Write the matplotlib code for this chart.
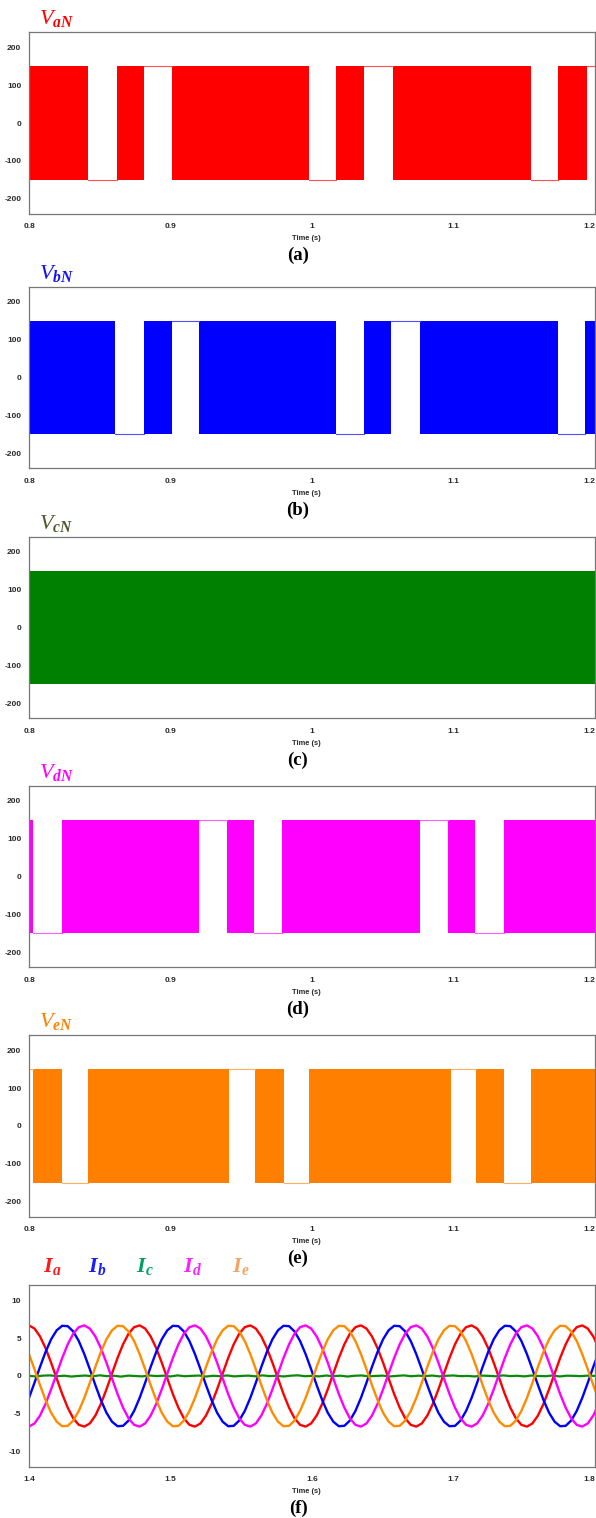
import numpy as np
import matplotlib
matplotlib.use("Agg")
import matplotlib.pyplot as plt

plt.rcParams["axes.unicode_minus"] = False
plt.rcParams["mathtext.fontset"] = "custom"
plt.rcParams["mathtext.rm"] = "Liberation Serif"
plt.rcParams["mathtext.it"] = "Liberation Serif:italic"
plt.rcParams["mathtext.bf"] = "Liberation Serif:bold:italic"

# ---------------- data ----------------
VDC = 150  # switching level of the phase voltages (V)
V_XLIM = (0.8, 1.2)
V_YLIM = (-240, 240)
V_XTICKS = [0.8, 0.9, 1.0, 1.1, 1.2]
V_XTICKLABELS = ["0.8", "0.9", "1", "1.1", "1.2"]
V_YTICKS = [200, 100, 0, -100, -200]
V_YTICKLABELS = ["200", "100", "0", "-100", "-200"]

# intervals (s) where the leg does not switch, and the level held (+1 top / -1 bottom)
VA_GAPS = [(0.842, 0.862), (0.881, 0.901), (0.998, 1.017), (1.037, 1.057), (1.155, 1.174), (1.194, 1.213)]
VA_SIDES = [-1, 1, -1, 1, -1, 1]
VB_GAPS = [(0.861, 0.881), (0.901, 0.920), (1.017, 1.037), (1.056, 1.076), (1.174, 1.193)]
VB_SIDES = [-1, 1, -1, 1, -1]
VC_GAPS = []
VC_SIDES = []
VD_GAPS = [(0.803, 0.823), (0.920, 0.940), (0.959, 0.979), (1.076, 1.096), (1.115, 1.136)]
VD_SIDES = [-1, 1, -1, 1, -1]
VE_GAPS = [(0.784, 0.803), (0.823, 0.842), (0.941, 0.960), (0.980, 0.998), (1.098, 1.116), (1.136, 1.155)]
VE_SIDES = [1, -1, 1, -1, 1, -1]

I_XLIM = (1.4, 1.8)
I_YLIM = (-12, 12)
I_XTICKS = [1.4, 1.5, 1.6, 1.7, 1.8]
I_XTICKLABELS = ["1.4", "1.5", "1.6", "1.7", "1.8"]
I_YTICKS = [10, 5, 0, -5, -10]
I_YTICKLABELS = ["10", "5", "0", "-5", "-10"]

I_T0 = 1.4
I_DT = 0.00391  # sampling step of the read-off current values (s)
IA = [6.69, 6.27, 5.22, 3.67, 1.76, -0.32, -2.38, -4.19, -5.60, -6.46, -6.69, -6.27, -5.22, -3.67, -1.76, 0.32, 2.38, 4.19, 5.60, 6.46,
      6.69, 6.27, 5.22, 3.67, 1.76, -0.32, -2.38, -4.19, -5.60, -6.46, -6.69, -6.27, -5.22, -3.67, -1.76, 0.32, 2.38, 4.19, 5.60, 6.46,
      6.69, 6.27, 5.22, 3.67, 1.76, -0.32, -2.38, -4.19, -5.60, -6.46, -6.69, -6.27, -5.22, -3.67, -1.76, 0.32, 2.38, 4.19, 5.60, 6.46,
      6.69, 6.27, 5.22, 3.67, 1.76, -0.32, -2.38, -4.19, -5.60, -6.46, -6.69, -6.27, -5.22, -3.67, -1.76, 0.32, 2.38, 4.19, 5.60, 6.46,
      6.69, 6.27, 5.22, 3.67, 1.76, -0.32, -2.38, -4.19, -5.60, -6.46, -6.69, -6.27, -5.22, -3.67, -1.76, 0.32, 2.38, 4.19, 5.60, 6.46,
      6.69, 6.27, 5.22, 3.67]
IB = [-2.89, -0.88, 1.22, 3.19, 4.86, 6.04, 6.64, 6.59, 5.89, 4.62, 2.89, 0.88, -1.22, -3.19, -4.86, -6.04, -6.64, -6.59, -5.89, -4.62,
      -2.89, -0.88, 1.22, 3.19, 4.86, 6.04, 6.64, 6.59, 5.89, 4.62, 2.89, 0.88, -1.22, -3.19, -4.86, -6.04, -6.64, -6.59, -5.89, -4.62,
      -2.89, -0.88, 1.22, 3.19, 4.86, 6.04, 6.64, 6.59, 5.89, 4.62, 2.89, 0.88, -1.22, -3.19, -4.86, -6.04, -6.64, -6.59, -5.89, -4.62,
      -2.89, -0.88, 1.22, 3.19, 4.86, 6.04, 6.64, 6.59, 5.89, 4.62, 2.89, 0.88, -1.22, -3.19, -4.86, -6.04, -6.64, -6.59, -5.89, -4.62,
      -2.89, -0.88, 1.22, 3.19, 4.86, 6.04, 6.64, 6.59, 5.89, 4.62, 2.89, 0.88, -1.22, -3.19, -4.86, -6.04, -6.64, -6.59, -5.89, -4.62,
      -2.89, -0.88, 1.22, 3.19]
ID = [-6.69, -6.27, -5.22, -3.67, -1.76, 0.32, 2.38, 4.19, 5.60, 6.46, 6.69, 6.27, 5.22, 3.67, 1.76, -0.32, -2.38, -4.19, -5.60, -6.46,
      -6.69, -6.27, -5.22, -3.67, -1.76, 0.32, 2.38, 4.19, 5.60, 6.46, 6.69, 6.27, 5.22, 3.67, 1.76, -0.32, -2.38, -4.19, -5.60, -6.46,
      -6.69, -6.27, -5.22, -3.67, -1.76, 0.32, 2.38, 4.19, 5.60, 6.46, 6.69, 6.27, 5.22, 3.67, 1.76, -0.32, -2.38, -4.19, -5.60, -6.46,
      -6.69, -6.27, -5.22, -3.67, -1.76, 0.32, 2.38, 4.19, 5.60, 6.46, 6.69, 6.27, 5.22, 3.67, 1.76, -0.32, -2.38, -4.19, -5.60, -6.46,
      -6.69, -6.27, -5.22, -3.67, -1.76, 0.32, 2.38, 4.19, 5.60, 6.46, 6.69, 6.27, 5.22, 3.67, 1.76, -0.32, -2.38, -4.19, -5.60, -6.46,
      -6.69, -6.27, -5.22, -3.67]
IE = [2.89, 0.88, -1.22, -3.19, -4.86, -6.04, -6.64, -6.59, -5.89, -4.62, -2.89, -0.88, 1.22, 3.19, 4.86, 6.04, 6.64, 6.59, 5.89, 4.62,
      2.89, 0.88, -1.22, -3.19, -4.86, -6.04, -6.64, -6.59, -5.89, -4.62, -2.89, -0.88, 1.22, 3.19, 4.86, 6.04, 6.64, 6.59, 5.89, 4.62,
      2.89, 0.88, -1.22, -3.19, -4.86, -6.04, -6.64, -6.59, -5.89, -4.62, -2.89, -0.88, 1.22, 3.19, 4.86, 6.04, 6.64, 6.59, 5.89, 4.62,
      2.89, 0.88, -1.22, -3.19, -4.86, -6.04, -6.64, -6.59, -5.89, -4.62, -2.89, -0.88, 1.22, 3.19, 4.86, 6.04, 6.64, 6.59, 5.89, 4.62,
      2.89, 0.88, -1.22, -3.19, -4.86, -6.04, -6.64, -6.59, -5.89, -4.62, -2.89, -0.88, 1.22, 3.19, 4.86, 6.04, 6.64, 6.59, 5.89, 4.62,
      2.89, 0.88, -1.22, -3.19]
IC_DT = 0.005
IC = [0.02, -0.06, 0.05, 0.08, -0.03, 0.04, -0.07, 0.01, 0.06, -0.04, 0.09, -0.02, 0.03, -0.08, 0.05, 0.00,
      -0.05, 0.07, -0.01, 0.04, -0.06, 0.08, -0.03, 0.02, 0.06, -0.07, 0.03, -0.02, 0.07, -0.05, 0.01, 0.05,
      -0.04, 0.08, -0.01, 0.03, -0.06, 0.04, 0.09, -0.03, 0.02, -0.05, 0.06, -0.02, 0.04, -0.07, 0.03, 0.07,
      -0.04, 0.01, 0.05, -0.06, 0.02, 0.08, -0.03, 0.04, -0.01, 0.06, -0.05, 0.03, 0.07, -0.02, 0.01, -0.06,
      0.05, 0.02, -0.04, 0.08, -0.01, 0.03, -0.05, 0.06, 0.00, -0.03, 0.07, -0.06, 0.04, 0.02, -0.02, 0.05, 0.01]

V_NAMES = [r"$V_{\mathbf{aN}}$", r"$V_{\mathbf{bN}}$", r"$V_{\mathbf{cN}}$", r"$V_{\mathbf{dN}}$", r"$V_{\mathbf{eN}}$"]
I_NAMES = [r"$\mathbf{I_a}$", r"$\mathbf{I_b}$", r"$\mathbf{I_c}$", r"$\mathbf{I_d}$", r"$\mathbf{I_e}$"]
PANEL_TAGS = ["(a)", "(b)", "(c)", "(d)", "(e)", "(f)"]

# ---------------- style ----------------
FILL_COLORS = ["#ff0000", "#0000ff", "#008000", "#ff00ff", "#ff8000"]
GAP_COLORS = ["#ff5050", "#5050ff", "#40a040", "#ff60ff", "#ffb060"]
VNAME_COLORS = ["#ff0000", "#1010ff", "#4b5a2a", "#ff00ff", "#ff8000"]
I_COLORS = ["#ff0000", "#0000ff", "#0a8a0a", "#ff00ff", "#ff8c00"]
INAME_COLORS = ["#ff1a1a", "#1a1aff", "#00a060", "#ff22ff", "#f4a460"]

W, H = 596, 1518
fig = plt.figure(figsize=(W / 100, H / 100), dpi=100)

AX_LEFT, AX_RIGHT = 29, 595
AX_H = 181.5
CENTERS = [123, 377.5, 627.5, 876.5, 1126, 1376]

TICK_FONT = dict(family="Liberation Sans", size=6.0, weight="bold", color="#2a2a2a")


def make_axes(cy):
    bottom = 1 - (cy + AX_H / 2) / H
    ax = fig.add_axes([AX_LEFT / W, bottom, (AX_RIGHT - AX_LEFT) / W, AX_H / H])
    for sp in ax.spines.values():
        sp.set_color("#777777")
        sp.set_linewidth(0.9)
    ax.tick_params(length=0)
    ax.tick_params(axis="y", pad=5.5)
    ax.tick_params(axis="x", pad=7.0)
    return ax


def style_ticks(ax, xt, xl, yt, yl):
    ax.set_xticks(xt)
    labels = ax.set_xticklabels(xl, fontdict=TICK_FONT)
    labels[-1].set_horizontalalignment("right")
    ax.set_yticks(yt)
    ax.set_yticklabels(yl, fontdict=TICK_FONT)


def bottom_texts(i, cy):
    yb = cy + AX_H / 2
    fig.text(306 / W, 1 - (yb + 25) / H, "Time (s)", ha="center", va="center",
             family="Liberation Sans", size=5.4, weight="bold", color="#2a2a2a")
    fig.text(298 / W, 1 - (yb + 42) / H, PANEL_TAGS[i], ha="center", va="center",
             family="Liberation Serif", size=13.5, weight="bold", color="black")


voltage_sets = [(VA_GAPS, VA_SIDES), (VB_GAPS, VB_SIDES), (VC_GAPS, VC_SIDES),
                (VD_GAPS, VD_SIDES), (VE_GAPS, VE_SIDES)]

for i, (gaps, sides) in enumerate(voltage_sets):
    cy = CENTERS[i]
    ax = make_axes(cy)
    edges = [V_XLIM[0] - 0.05] + [g for gap in gaps for g in gap] + [V_XLIM[1] + 0.05]
    for a, b in zip(edges[0::2], edges[1::2]):
        if b > a:
            ax.fill_between([a, b], [-VDC, -VDC], [VDC, VDC], color=FILL_COLORS[i], lw=0)
    for (a, b), s in zip(gaps, sides):
        ax.plot([a, b], [s * VDC, s * VDC], color=GAP_COLORS[i], lw=0.8)
    ax.set_xlim(*V_XLIM)
    ax.set_ylim(*V_YLIM)
    style_ticks(ax, V_XTICKS, V_XTICKLABELS, V_YTICKS, V_YTICKLABELS)
    top = cy - AX_H / 2
    fig.text(39 / W, 1 - (top - 8) / H, V_NAMES[i], ha="left", va="baseline",
             size=16, color=VNAME_COLORS[i])
    bottom_texts(i, cy)

# currents
cy = CENTERS[5]
ax = make_axes(cy)
t_i = I_T0 + I_DT * np.arange(len(IA))
t_c = I_T0 + IC_DT * np.arange(len(IC))
series = [(t_i, IA), (t_i, IB), (t_c, IC), (t_i, ID), (t_i, IE)]
for k, (tt, yy) in enumerate(series):
    ax.plot(tt, yy, color=I_COLORS[k], lw=1.7 if k != 2 else 1.6, solid_capstyle="butt")
ax.set_xlim(*I_XLIM)
ax.set_ylim(*I_YLIM)
style_ticks(ax, I_XTICKS, I_XTICKLABELS, I_YTICKS, I_YTICKLABELS)
top = cy - AX_H / 2
I_LABEL_X = [43, 88, 136, 183, 232]
for k in range(5):
    fig.text(I_LABEL_X[k] / W, 1 - (top - 13) / H, I_NAMES[k], ha="left", va="baseline",
             size=16, color=INAME_COLORS[k])
bottom_texts(5, cy)

fig.savefig("out.png", dpi=100)
